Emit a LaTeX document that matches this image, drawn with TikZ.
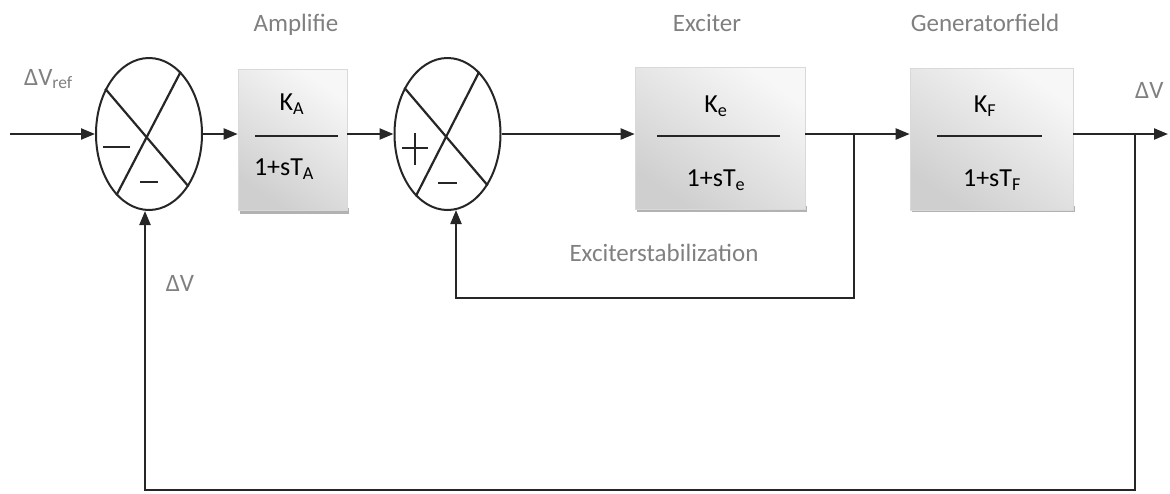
\documentclass[tikz,border=0pt]{standalone}
\usepackage{fontspec}
\setmainfont{Carlito}
\usetikzlibrary{shapes.geometric,arrows.meta,calc}
\begin{document}
\begin{tikzpicture}[x=1pt,y=-1pt,
  wire/.style={line width=2.2pt, draw=black!85},
  arr/.style={wire,-{Triangle[length=14pt,width=11pt]}},
  summer/.style={ellipse, draw=black!85, line width=2pt, minimum width=106pt, minimum height=152pt, inner sep=0pt},
  blk/.style={rectangle, inner sep=0pt, top color=gray!6, bottom color=gray!38, shading angle=-35, draw=gray!30, line width=0.6pt},
  shadowbox/.style={fill=gray!60},
  lbl/.style={text=black!50, font=\fontsize{25}{27}\selectfont, inner sep=0pt},
  btxt/.style={text=black, font=\fontsize{26}{28}\selectfont, inner sep=0pt},
  sign/.style={line width=2pt, draw=black!85}]
\useasboundingbox (0,0) rectangle (1170,493);

% summing junctions
\node[summer] (s1) at (149,134) {};
\node[summer] (s2) at (447.5,134) {};
\draw[wire] (s1.134) -- (s1.-53);
\draw[wire] (s1.63) -- (s1.242);
\draw[wire] (s2.133) -- (s2.-52);
\draw[wire] (s2.63) -- (s2.243);

% signs
\draw[sign] (103,147) -- (130,147);
\draw[sign] (140,182) -- (158,182);
\draw[sign] (402,148) -- (428,148);
\draw[sign] (415,133) -- (415,165);
\draw[sign] (438,183) -- (457,183);

% blocks with shadows
\fill[shadowbox] (240,208) rectangle (349,214);
\node[blk, minimum width=109pt, minimum height=141pt] (amp) at (292.5,139.5) {};
\fill[shadowbox] (637,206) rectangle (807,212);
\node[blk, minimum width=170pt, minimum height=142pt] (exc) at (720,138) {};
\fill[shadowbox] (912,206) rectangle (1075,212);
\node[blk, minimum width=163pt, minimum height=142pt] (gen) at (991.5,139) {};

% fractions
\node[btxt] (ka) at (292,104) {K\textsubscript{A}};
\node[btxt] (da) at (284,169) {1+sT\textsubscript{A}};
\draw[wire] (255,136) -- (338,136);
\node[btxt] (ke) at (716,106) {K\textsubscript{e}};
\node[btxt] (de) at (716,180) {1+sT\textsubscript{e}};
\draw[wire] (657,136) -- (780,136);
\node[btxt] (kf) at (985,106) {K\textsubscript{F}};
\node[btxt] (df) at (992,180) {1+sT\textsubscript{F}};
\draw[wire] (937,136) -- (1042,136);

% labels
\node[lbl] (lamp) at (296,25) {Amplifie};
\node[lbl] (lexc) at (707,23) {Exciter};
\node[lbl] (lgen) at (985,23) {Generatorfield};
\node[lbl] (lstab) at (664,253) {Exciterstabilization};
\node[lbl] (ldv) at (180,283) {ΔV};
\node[lbl, anchor=west] (lref) at (24,79) {ΔV\textsubscript{ref}};
\node[lbl, anchor=west] (lout) at (1135,90) {ΔV};

% coordinates
\coordinate (in) at (10,134);
\coordinate (j1) at (854,134);
\coordinate (j2) at (1135,134);
\coordinate (out) at (1168,134);
\coordinate (c1) at (456,298);
\coordinate (c2) at (145,490);

% connectors
\draw[arr] (in) -- (s1.west);
\draw[arr] (s1.east) -- (s1.east -| amp.west);
\draw[arr] (amp.east |- s2.west) -- (s2.west);
\draw[arr] (s2.east) -- (s2.east -| exc.west);
\draw[wire] (exc.east |- j1) -- (j1);
\draw[arr] (j1) -- (j1 -| gen.west);
\draw[wire] (gen.east |- j2) -- (j2);
\draw[arr] (j2) -- (out);
\draw[arr] (j1) |- (c1) -- ($(c1 |- s2.south)+(0,-1)$);
\draw[arr] (j2) |- (c2) -- (c2 |- s1.south);
\end{tikzpicture}
\end{document}
